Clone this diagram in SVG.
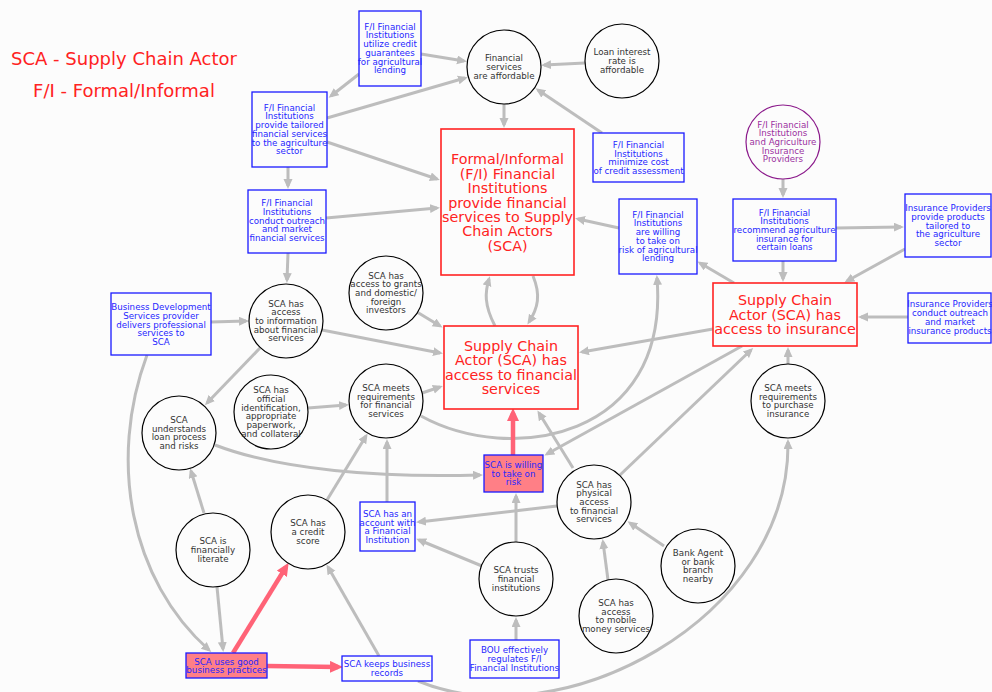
<svg xmlns="http://www.w3.org/2000/svg" width="992" height="692" viewBox="0 0 992 692">
<style>
text{font-family:"DejaVu Sans","Liberation Sans",sans-serif;text-anchor:middle}
.s{font-size:8.7px}
.k{fill:#333}
.b{fill:#2626ff}
.p{fill:#9b30a0}
.r{fill:#ff2222;font-size:14.3px}
.cir{fill:#fcfcfc;stroke:#000;stroke-width:1.2}
.pc{fill:#fcfcfc;stroke:#8b1a8b;stroke-width:1.2}
.bx{fill:#fcfcfc;stroke:#1a1aff;stroke-width:1.3}
.pk{fill:#ff7f86;stroke:#1a1aff;stroke-width:1.3}
.rx{fill:#fcfcfc;stroke:#ff2222;stroke-width:1.6}
.e{fill:none;stroke:#bdbdbd;stroke-width:3;marker-end:url(#ag)}
.re{fill:none;stroke:#ff6377;stroke-width:4.5;marker-end:url(#ar)}
</style>
<defs>
<marker id="ag" markerUnits="userSpaceOnUse" markerWidth="12" markerHeight="10" refX="7" refY="4.5" orient="auto"><path d="M0,0L10,4.5L0,9z" fill="#bdbdbd"/></marker>
<marker id="ar" markerUnits="userSpaceOnUse" markerWidth="14" markerHeight="13" refX="8" refY="6" orient="auto"><path d="M0,0L13,6L0,12z" fill="#ff6377"/></marker>
</defs>
<rect width="992" height="692" fill="#fcfcfc"/>
<g id="legend">
<text x="124" y="65" style="font-size:18px;fill:#ff2222">SCA - Supply Chain Actor</text>
<text x="124" y="97" style="font-size:18px;fill:#ff2222">F/I - Formal/Informal</text>
</g>
<g id="edges">
<path class="e" d="M421,54L464,61"/>
<path class="e" d="M359,74L331,96"/>
<path class="e" d="M327,118L465,78"/>
<path class="e" d="M585,63L544,65"/>
<path class="e" d="M504,104L504,125"/>
<path class="e" d="M602,133L538,90"/>
<path class="e" d="M327,142L437,179"/>
<path class="e" d="M288,167L288,186"/>
<path class="e" d="M326,218L437,208"/>
<path class="e" d="M288,253L287,280"/>
<path class="e" d="M619,228L578,219"/>
<path class="e" d="M783,179L783,195"/>
<path class="e" d="M836,228L901,227"/>
<path class="e" d="M783,261L783,279"/>
<path class="e" d="M905,249L847,281"/>
<path class="e" d="M908,317L861,317"/>
<path class="e" d="M734,283L700,263"/>
<path class="e" d="M713,329L582,352"/>
<path class="e" d="M742,346L547,454"/>
<path class="e" d="M620,475L751,350"/>
<path class="e" d="M788,364L788,350"/>
<path class="e" d="M418,681C560,740 790,620 788,442"/>
<path class="e" d="M147,355C108,460 130,580 209,650"/>
<path class="e" d="M211,322L246,321"/>
<path class="e" d="M322,330L440,353"/>
<path class="e" d="M260,348L207,403"/>
<path class="e" d="M417,312L440,326"/>
<path class="e" d="M308,408L346,405"/>
<path class="e" d="M422,393L440,387"/>
<path class="e" d="M421,416C510,465 670,440 657,278"/>
<path class="e" d="M215,445C280,470 380,478 480,475"/>
<path class="e" d="M495,326C484,305 485,292 489,279"/>
<path class="e" d="M533,276C541,295 538,308 529,322"/>
<path class="e" d="M573,468L539,413"/>
<path class="e" d="M557,506L419,522"/>
<path class="e" d="M482,566L419,540"/>
<path class="e" d="M516,542L516,496"/>
<path class="e" d="M516,640L516,620"/>
<path class="e" d="M608,580L603,542"/>
<path class="e" d="M664,546L630,523"/>
<path class="e" d="M387,502L387,442"/>
<path class="e" d="M327,500L366,436"/>
<path class="e" d="M204,513L191,471"/>
<path class="e" d="M217,587L223,649"/>
<path class="e" d="M379,656L328,567"/>
<path class="re" d="M513,455L513,413"/>
<path class="re" d="M233,653L286,567"/>
<path class="re" d="M267,666L338,667"/>
</g>
<g id="n_utilize"><rect class="bx" x="359" y="11" width="62" height="75"/><text class="s b" y="29.75"><tspan x="390">F/I Financial</tspan><tspan x="390" dy="8.7">Institutions</tspan><tspan x="390" dy="8.7">utilize credit</tspan><tspan x="390" dy="8.7">guarantees</tspan><tspan x="390" dy="8.7">for agricultural</tspan><tspan x="390" dy="8.7">lending</tspan></text></g>
<g id="n_tailored"><rect class="bx" x="252" y="92" width="75" height="75"/><text class="s b" y="110.75"><tspan x="289.5">F/I Financial</tspan><tspan x="289.5" dy="8.7">Institutions</tspan><tspan x="289.5" dy="8.7">provide tailored</tspan><tspan x="289.5" dy="8.7">financial services</tspan><tspan x="289.5" dy="8.7">to the agriculture</tspan><tspan x="289.5" dy="8.7">sector</tspan></text></g>
<g id="n_outreach"><rect class="bx" x="248" y="190" width="78" height="63"/><text class="s b" y="206.1"><tspan x="287">F/I Financial</tspan><tspan x="287" dy="8.7">Institutions</tspan><tspan x="287" dy="8.7">conduct outreach</tspan><tspan x="287" dy="8.7">and market</tspan><tspan x="287" dy="8.7">financial services</tspan></text></g>
<g id="n_mincost"><rect class="bx" x="593" y="133" width="91" height="49"/><text class="s b" y="147.95"><tspan x="638.5">F/I Financial</tspan><tspan x="638.5" dy="8.7">Institutions</tspan><tspan x="638.5" dy="8.7">minimize cost</tspan><tspan x="638.5" dy="8.7">of credit assessment</tspan></text></g>
<g id="n_fiwilling"><rect class="bx" x="619" y="199" width="78" height="75"/><text class="s b" y="217.75"><tspan x="658">F/I Financial</tspan><tspan x="658" dy="8.7">Institutions</tspan><tspan x="658" dy="8.7">are willing</tspan><tspan x="658" dy="8.7">to take on</tspan><tspan x="658" dy="8.7">risk of agricultural</tspan><tspan x="658" dy="8.7">lending</tspan></text></g>
<g id="n_recommend"><rect class="bx" x="733" y="199" width="103" height="62"/><text class="s b" y="215.6"><tspan x="784.5">F/I Financial</tspan><tspan x="784.5" dy="8.7">Institutions</tspan><tspan x="784.5" dy="8.7">recommend agriculture</tspan><tspan x="784.5" dy="8.7">insurance for</tspan><tspan x="784.5" dy="8.7">certain loans</tspan></text></g>
<g id="n_instailored"><rect class="bx" x="905" y="194" width="86" height="63"/><text class="s b" y="211.1"><tspan x="948">Insurance Providers</tspan><tspan x="948" dy="8.7">provide products</tspan><tspan x="948" dy="8.7">tailored to</tspan><tspan x="948" dy="8.7">the agriculture</tspan><tspan x="948" dy="8.7">sector</tspan></text></g>
<g id="n_insoutreach"><rect class="bx" x="908" y="293" width="83" height="50"/><text class="s b" y="307.45"><tspan x="950">Insurance Providers</tspan><tspan x="950" dy="8.7">conduct outreach</tspan><tspan x="950" dy="8.7">and market</tspan><tspan x="950" dy="8.7">insurance products</tspan></text></g>
<g id="n_bds"><rect class="bx" x="111" y="293" width="100" height="62"/><text class="s b" y="310.1"><tspan x="161">Business Development</tspan><tspan x="161" dy="8.7">Services provider</tspan><tspan x="161" dy="8.7">delivers professional</tspan><tspan x="161" dy="8.7">services to</tspan><tspan x="161" dy="8.7">SCA</tspan></text></g>
<g id="n_scawilling"><rect class="pk" x="484" y="455" width="59" height="37"/><text class="s b" y="467.8"><tspan x="513.5">SCA is willing</tspan><tspan x="513.5" dy="8.7">to take on</tspan><tspan x="513.5" dy="8.7">risk</tspan></text></g>
<g id="n_account"><rect class="bx" x="360" y="502" width="55" height="49"/><text class="s b" y="516.95"><tspan x="387.5">SCA has an</tspan><tspan x="387.5" dy="8.7">account with</tspan><tspan x="387.5" dy="8.7">a Financial</tspan><tspan x="387.5" dy="8.7">Institution</tspan></text></g>
<g id="n_practices"><rect class="pk" x="186" y="653" width="81" height="25"/><text class="s b" y="664.65"><tspan x="226.5">SCA uses good</tspan><tspan x="226.5" dy="8.7">business practices</tspan></text></g>
<g id="n_records"><rect class="bx" x="342" y="656" width="90" height="25"/><text class="s b" y="667.15"><tspan x="387">SCA keeps business</tspan><tspan x="387" dy="8.7">records</tspan></text></g>
<g id="n_bou"><rect class="bx" x="470" y="640" width="89" height="38"/><text class="s b" y="653.3"><tspan x="514.5">BOU effectively</tspan><tspan x="514.5" dy="8.7">regulates F/I</tspan><tspan x="514.5" dy="8.7">Financial Institutions</tspan></text></g>
<g id="n_fiprovide"><rect class="rx" x="441" y="129" width="133" height="146"/><text class="r" y="164.3"><tspan x="507.5">Formal/Informal</tspan><tspan x="507.5" dy="14.4">(F/I) Financial</tspan><tspan x="507.5" dy="14.4">Institutions</tspan><tspan x="507.5" dy="14.4">provide financial</tspan><tspan x="507.5" dy="14.4">services to Supply</tspan><tspan x="507.5" dy="14.4">Chain Actors</tspan><tspan x="507.5" dy="14.4">(SCA)</tspan></text></g>
<g id="n_scafin"><rect class="rx" x="444" y="326" width="134" height="83"/><text class="r" y="350.9"><tspan x="511">Supply Chain</tspan><tspan x="511" dy="14.4">Actor (SCA) has</tspan><tspan x="511" dy="14.4">access to financial</tspan><tspan x="511" dy="14.4">services</tspan></text></g>
<g id="n_scains"><rect class="rx" x="713" y="283" width="144" height="63"/><text class="r" y="305.1"><tspan x="785">Supply Chain</tspan><tspan x="785" dy="14.4">Actor (SCA) has</tspan><tspan x="785" dy="14.4">access to insurance</tspan></text></g>
<g id="n_affordable"><circle class="cir" cx="504" cy="67" r="37"/><text class="s k" y="61.3"><tspan x="504">Financial</tspan><tspan x="504" dy="8.7">services</tspan><tspan x="504" dy="8.7">are affordable</tspan></text></g>
<g id="n_loan"><circle class="cir" cx="622" cy="61" r="37"/><text class="s k" y="55.3"><tspan x="622">Loan interest</tspan><tspan x="622" dy="8.7">rate is</tspan><tspan x="622" dy="8.7">affordable</tspan></text></g>
<g id="n_fiaip"><circle class="pc" cx="783" cy="142" r="37"/><text class="s p" y="127.6"><tspan x="783">F/I Financial</tspan><tspan x="783" dy="8.7">Institutions</tspan><tspan x="783" dy="8.7">and Agriculture</tspan><tspan x="783" dy="8.7">Insurance</tspan><tspan x="783" dy="8.7">Providers</tspan></text></g>
<g id="n_info"><circle class="cir" cx="286" cy="321" r="37"/><text class="s k" y="306.6"><tspan x="286">SCA has</tspan><tspan x="286" dy="8.7">access</tspan><tspan x="286" dy="8.7">to information</tspan><tspan x="286" dy="8.7">about financial</tspan><tspan x="286" dy="8.7">services</tspan></text></g>
<g id="n_grants"><circle class="cir" cx="386" cy="293" r="37"/><text class="s k" y="278.6"><tspan x="386">SCA has</tspan><tspan x="386" dy="8.7">access to grants</tspan><tspan x="386" dy="8.7">and domestic/</tspan><tspan x="386" dy="8.7">foreign</tspan><tspan x="386" dy="8.7">investors</tspan></text></g>
<g id="n_understands"><circle class="cir" cx="179" cy="433" r="37"/><text class="s k" y="422.95"><tspan x="179">SCA</tspan><tspan x="179" dy="8.7">understands</tspan><tspan x="179" dy="8.7">loan process</tspan><tspan x="179" dy="8.7">and risks</tspan></text></g>
<g id="n_official"><circle class="cir" cx="271" cy="412" r="37"/><text class="s k" y="393.25"><tspan x="271">SCA has</tspan><tspan x="271" dy="8.7">official</tspan><tspan x="271" dy="8.7">identification,</tspan><tspan x="271" dy="8.7">appropriate</tspan><tspan x="271" dy="8.7">paperwork,</tspan><tspan x="271" dy="8.7">and collateral</tspan></text></g>
<g id="n_meetsfin"><circle class="cir" cx="386" cy="401" r="37"/><text class="s k" y="390.95"><tspan x="386">SCA meets</tspan><tspan x="386" dy="8.7">requirements</tspan><tspan x="386" dy="8.7">for financial</tspan><tspan x="386" dy="8.7">services</tspan></text></g>
<g id="n_meetsins"><circle class="cir" cx="788" cy="401" r="37"/><text class="s k" y="390.95"><tspan x="788">SCA meets</tspan><tspan x="788" dy="8.7">requirements</tspan><tspan x="788" dy="8.7">to purchase</tspan><tspan x="788" dy="8.7">insurance</tspan></text></g>
<g id="n_physical"><circle class="cir" cx="594" cy="502" r="37"/><text class="s k" y="487.6"><tspan x="594">SCA has</tspan><tspan x="594" dy="8.7">physical</tspan><tspan x="594" dy="8.7">access</tspan><tspan x="594" dy="8.7">to financial</tspan><tspan x="594" dy="8.7">services</tspan></text></g>
<g id="n_bank"><circle class="cir" cx="698" cy="566" r="37"/><text class="s k" y="555.95"><tspan x="698">Bank Agent</tspan><tspan x="698" dy="8.7">or bank</tspan><tspan x="698" dy="8.7">branch</tspan><tspan x="698" dy="8.7">nearby</tspan></text></g>
<g id="n_mobile"><circle class="cir" cx="616" cy="616" r="37"/><text class="s k" y="605.95"><tspan x="616">SCA has</tspan><tspan x="616" dy="8.7">access</tspan><tspan x="616" dy="8.7">to mobile</tspan><tspan x="616" dy="8.7">money services</tspan></text></g>
<g id="n_trusts"><circle class="cir" cx="516" cy="579" r="37"/><text class="s k" y="573.3"><tspan x="516">SCA trusts</tspan><tspan x="516" dy="8.7">financial</tspan><tspan x="516" dy="8.7">institutions</tspan></text></g>
<g id="n_literate"><circle class="cir" cx="213" cy="550" r="37"/><text class="s k" y="544.3"><tspan x="213">SCA is</tspan><tspan x="213" dy="8.7">financially</tspan><tspan x="213" dy="8.7">literate</tspan></text></g>
<g id="n_credit"><circle class="cir" cx="308" cy="532" r="37"/><text class="s k" y="526.3"><tspan x="308">SCA has</tspan><tspan x="308" dy="8.7">a credit</tspan><tspan x="308" dy="8.7">score</tspan></text></g>
</svg>
